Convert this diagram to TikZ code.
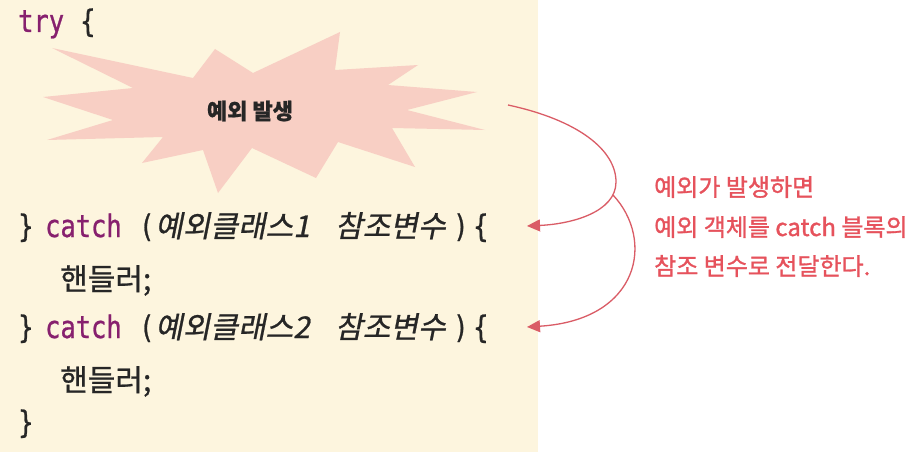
\documentclass[tikz,border=0pt]{standalone}
\usepackage{fontspec}
\usetikzlibrary{arrows.meta}
\setmainfont{Noto Sans CJK KR}
\newfontfamily\codefont[FakeStretch=0.82,FakeBold=0.8]{DejaVu Sans Mono}
\newfontfamily\kofont[FakeBold=0.8]{Noto Sans CJK KR}
\newfontfamily\koitfont[FakeSlant=0.2,FakeBold=0.8]{Noto Sans CJK KR}
\newfontfamily\notefont[FakeBold=1.2]{Noto Sans CJK KR}
\definecolor{bgyellow}{RGB}{253,245,222}
\definecolor{burstpink}{RGB}{248,207,196}
\definecolor{kwpurple}{RGB}{135,32,110}
\definecolor{codedark}{RGB}{38,38,38}
\definecolor{notered}{RGB}{230,82,92}
\definecolor{arrowred}{RGB}{218,92,102}
\begin{document}
\begin{tikzpicture}[x=1pt,y=-1pt,
  code/.style={anchor=base west,inner sep=0pt,text=codedark,font=\codefont\fontsize{31}{31}\selectfont},
  kw/.style={code,text=kwpurple},
  kocode/.style={anchor=base west,inner sep=0pt,text=codedark,font=\kofont\fontsize{30}{30}\selectfont},
  koit/.style={anchor=base west,inner sep=0pt,text=codedark,font=\koitfont\fontsize{30}{30}\selectfont},
  note/.style={anchor=base west,inner sep=0pt,text=notered,font=\notefont\fontsize{24}{24}\selectfont},
  flow/.style={draw=arrowred,line width=1.3pt,-{Triangle[length=13pt,width=12pt]}}]
\useasboundingbox (0,0) rectangle (913,452);
\fill[white] (0,0) rectangle (913,452);
\fill[bgyellow] (0,0) rectangle (538,452);
% burst
\fill[burstpink] (52,48) -- (193,78) -- (215,49) -- (253,73) -- (340,32) -- (335,70)
  -- (418,65) -- (388,85) -- (477,92) -- (407,110) -- (485,130) -- (392,128)
  -- (415,167) -- (338,142) -- (316,178) -- (252,148) -- (218,193) -- (203,150)
  -- (142,163) -- (163,137) -- (47,140) -- (113,120) -- (43,97) -- (133,88) -- cycle;
\node[inner sep=0pt,text=codedark,font=\kofont\bfseries\fontsize{22}{22}\selectfont] (burst) at (250,111) {예외 발생};
% code
\node[kw] (try) at (18,32) {try};
\node[code] (tryb) at (80,32) {\{};
\node[code] (c1a) at (18,237) {\}};
\node[kw] (c1b) at (45,237) {catch};
\node[code] (c1c) at (139,237) {(};
\node[koit] (c1d) at (155,237) {예외클래스1};
\node[koit] (c1e) at (335,237) {참조변수};
\node[code] (c1f) at (453,237) {)};
\node[code] (c1g) at (473,237) {\{};
\node[kocode] (h1) at (60,290) {핸들러;};
\node[code] (c2a) at (18,338) {\}};
\node[kw] (c2b) at (45,338) {catch};
\node[code] (c2c) at (139,338) {(};
\node[koit] (c2d) at (155,338) {예외클래스2};
\node[koit] (c2e) at (335,338) {참조변수};
\node[code] (c2f) at (453,338) {)};
\node[code] (c2g) at (473,338) {\{};
\node[kocode] (h2) at (60,391) {핸들러;};
\node[code] (endb) at (18,433) {\}};
% note
\node[note] (n1) at (654,196) {예외가 발생하면};
\node[note] (n2) at (654,236) {예외 객체를 catch 블록의};
\node[note] (n3) at (654,275) {참조 변수로 전달한다.};
% arrows
\coordinate (s) at (508,105);
\coordinate (m) at (616,182);
\coordinate (t1) at (527,226);
\coordinate (b) at (613,195);
\coordinate (t2) at (527,327);
\draw[flow] (s) .. controls (578,120) and (616,150) .. (m) .. controls (616,212) and (572,224) .. (t1);
\draw[flow] (b) .. controls (655,240) and (640,320) .. (t2);
\end{tikzpicture}
\end{document}
